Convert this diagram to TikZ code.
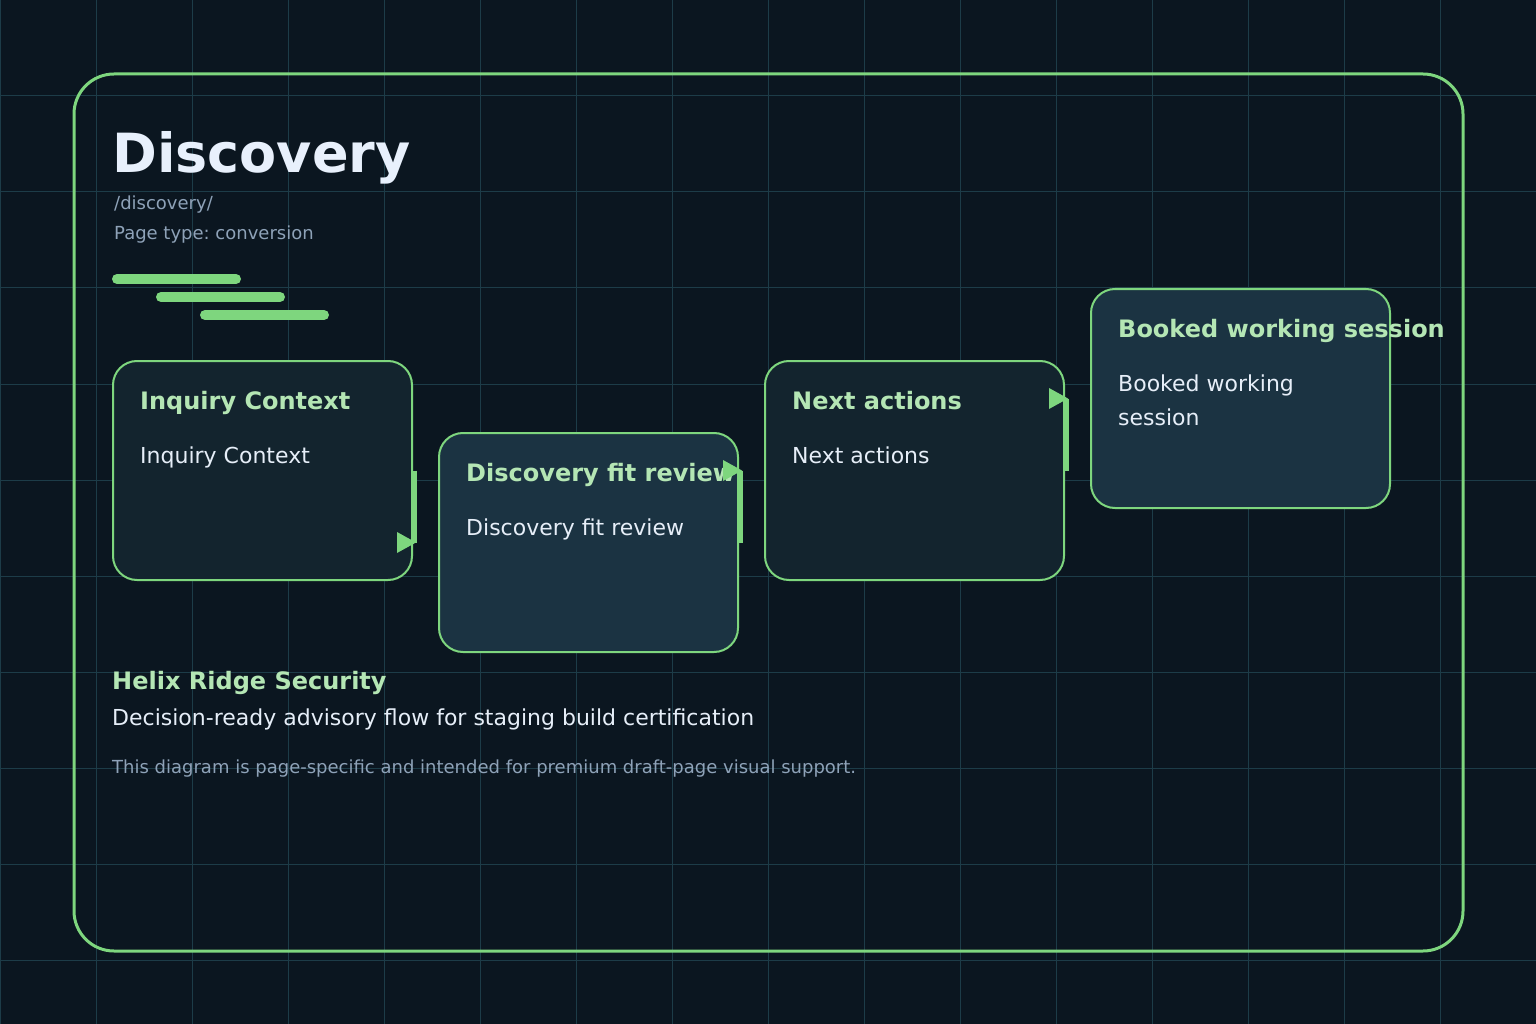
\documentclass[tikz,border=0pt]{standalone}
\usepackage{fontspec}
\setmainfont{DejaVu Sans}
\usetikzlibrary{calc}
\frenchspacing
\definecolor{bgc}{HTML}{0B1620}
\definecolor{gridc}{HTML}{1D3C48}
\definecolor{boxdark}{HTML}{13242E}
\definecolor{boxlight}{HTML}{1B3342}
\definecolor{accent}{HTML}{7ED67E}
\definecolor{titlegreen}{HTML}{B4E6B4}
\definecolor{bodywhite}{HTML}{E6EEF8}
\definecolor{mutedgray}{HTML}{8EA2B8}
\definecolor{headwhite}{HTML}{E8F0FC}
\tikzset{
  gridline/.style={draw=gridc, line width=1pt},
  card/.style={draw=accent, line width=2pt, rounded corners=24pt, minimum width=299pt, minimum height=219pt, inner sep=0pt},
  carddark/.style={card, fill=boxdark},
  cardlight/.style={card, fill=boxlight},
  cardtitle/.style={anchor=base west, inner sep=0pt, text=titlegreen, font=\fontsize{24}{28}\selectfont\bfseries},
  cardbody/.style={anchor=base west, inner sep=0pt, text=bodywhite, font=\fontsize{22}{26}\selectfont},
  connector/.style={draw=accent, line width=4pt},
  tipfill/.style={fill=accent},
  bar/.style={draw=accent, line width=10pt, line cap=round},
  muted/.style={anchor=base west, inner sep=0pt, text=mutedgray, font=\fontsize{18}{22}\selectfont},
}
\begin{document}
\begin{tikzpicture}[x=1pt,y=-1pt]
\fill[bgc] (0,0) rectangle (1536,1024);
\useasboundingbox (0,0) rectangle (1536,1024);
\foreach \gx in {0,96,...,1536} {\draw[gridline] (\gx,0) -- (\gx,1024);}
\foreach \gy in {0,96,...,1024} {\draw[gridline] (0,\gy) -- (1536,\gy);}
% outer frame
\draw[accent, line width=3pt, rounded corners=40pt] (74,74) rectangle (1463,951);
% header
\node[anchor=base west, inner sep=0pt, text=headwhite, font=\fontsize{54}{60}\selectfont\bfseries] (title) at (112,173) {Discovery};
\node[muted] (slug) at (114,210) {/discovery/};
\node[muted] (ptype) at (114,240) {Page type: conversion};
% bars
\coordinate (bar1a) at (117,279); \coordinate (bar1b) at (236,279);
\coordinate (bar2a) at (161,297); \coordinate (bar2b) at (280,297);
\coordinate (bar3a) at (205,315); \coordinate (bar3b) at (324,315);
\draw[bar] (bar1a) -- (bar1b);
\draw[bar] (bar2a) -- (bar2b);
\draw[bar] (bar3a) -- (bar3b);
% cards
\node[carddark] (b1) at (262.5,470.5) {};
\node[cardlight] (b2) at (588.5,542.5) {};
\node[carddark] (b3) at (914.5,470.5) {};
\node[cardlight] (b4) at (1240.5,398.5) {};
\node[cardtitle] (t1) at (140,409) {Inquiry Context};
\node[cardbody] (d1) at (140,463) {Inquiry Context};
\node[cardtitle] (t2) at (466,481) {Discovery fit review};
\node[cardbody] (d2) at (466,535) {Discovery fit review};
\node[cardtitle] (t3) at (792,409) {Next actions};
\node[cardbody] (d3) at (792,463) {Next actions};
\node[cardtitle] (t4) at (1118,337) {Booked working session};
\node[cardbody] (d4a) at (1118,391) {Booked working};
\node[cardbody] (d4b) at (1118,425) {session};
% connectors
\coordinate (c1s) at ($(b1.east)+(2,0)$);
\coordinate (c1e) at ($(b1.east)+(2,72)$);
\draw[connector] (c1s) -- (c1e);
\fill[tipfill] ($(c1e)+(1,0)$) -- ++(-19,-10.5) -- ++(0,21) -- cycle;
\coordinate (c2s) at ($(b2.east)+(2,-72)$);
\coordinate (c2e) at ($(b2.east)+(2,0)$);
\draw[connector] (c2s) -- (c2e);
\fill[tipfill] ($(c2s)+(1,0)$) -- ++(-19,-10.5) -- ++(0,21) -- cycle;
\coordinate (c3s) at ($(b3.east)+(2,-72)$);
\coordinate (c3e) at ($(b3.east)+(2,0)$);
\draw[connector] (c3s) -- (c3e);
\fill[tipfill] ($(c3s)+(1,0)$) -- ++(-19,-10.5) -- ++(0,21) -- cycle;
% footer
\node[anchor=base west, inner sep=0pt, text=titlegreen, font=\fontsize{24}{28}\selectfont\bfseries] (brand) at (112,689) {Helix Ridge Security};
\node[anchor=base west, inner sep=0pt, text=bodywhite, font=\fontsize{22}{26}\selectfont] (tagline) at (112,725) {Decision-ready advisory flow for staging build certification};
\node[muted] (note) at (112,773) {This diagram is page-specific and intended for premium draft-page visual support.};
\end{tikzpicture}
\end{document}
